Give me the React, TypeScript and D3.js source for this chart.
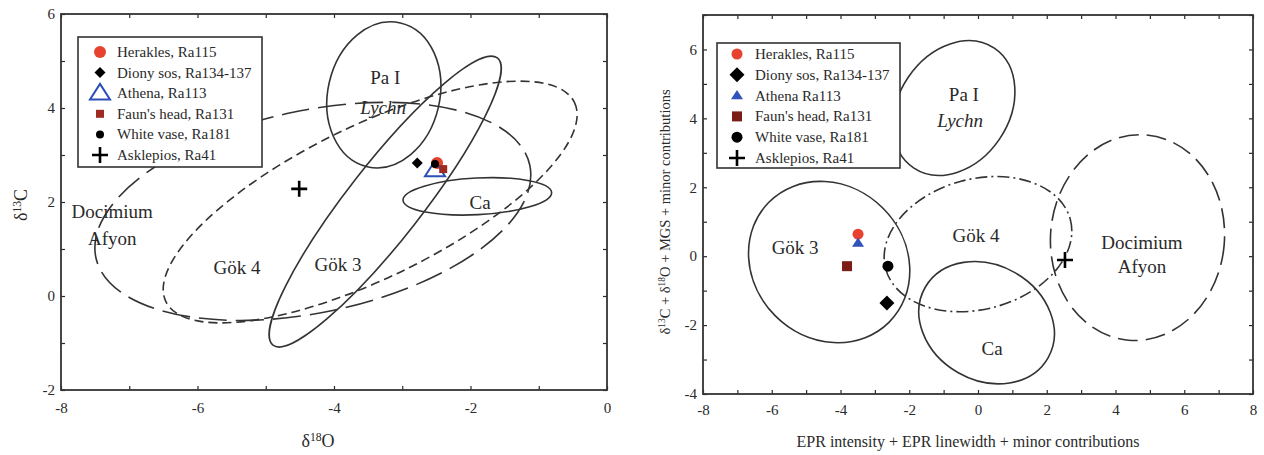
import React, { useEffect, useRef } from "react";
import * as d3 from "d3";

// samples, same order in both panels
const sampleKinds = ["circle", "diamond", "triangle", "square", "dot", "cross"];
const leftNames = ["Herakles, Ra115", "Diony sos, Ra134-137", "Athena, Ra113", "Faun's head, Ra131", "White vase, Ra181", "Asklepios, Ra41"];
const rightNames = ["Herakles, Ra115", "Diony sos, Ra134-137", "Athena Ra113", "Faun's head, Ra131", "White vase, Ra181", "Asklepios, Ra41"];

// left: d18O vs d13C
const leftX = [-2.49, -2.78, -2.52, -2.4, -2.52, -4.51];
const leftY = [2.83, 2.83, 2.68, 2.7, 2.81, 2.28];
// right: EPR + isotope combined coordinates
const rightX = [-3.49, -2.65, -3.49, -3.81, -2.62, 2.53];
const rightY = [0.64, -1.36, 0.38, -0.29, -0.29, -0.11];

// quarry fields: centre, semi-axes (axis units), tilt (deg)
const fields = ["Pa I", "Gök 3", "Gök 4", "Ca", "Docimium"];
const leftCx = [-3.27, -3.25, -3.47, -1.9, -4.31];
const leftCy = [4.28, 2.01, 2.0, 2.12, 1.8];
const leftRx = [0.82, 2.67, 3.33, 1.09, 3.25];
const leftRy = [1.57, 0.79, 1.62, 0.39, 2.15];
const leftTilt = [13, -52, -26, -3, -12];

const rightCx = [-0.7, -4.33, 0.0, 0.25, 4.64];
const rightCy = [4.3, -0.17, 0.35, -1.93, 0.54];
const rightRx = [2.1, 2.47, 2.78, 2.06, 2.53];
const rightRy = [1.6, 2.21, 1.89, 1.67, 2.99];
const rightTilt = [-56, 45, -15, 30, 5];

// field names written in the plots
const leftLabels = ["Pa I", "Lychn", "Docimium", "Afyon", "Gök 4", "Gök 3", "Ca"];
const leftLabelX = [-3.25, -3.28, -7.25, -7.25, -5.42, -3.94, -1.86];
const leftLabelY = [4.64, 4.02, 1.79, 1.23, 0.6, 0.66, 1.98];
const rightLabels = ["Pa I", "Lychn", "Gök 3", "Gök 4", "Docimium", "Afyon", "Ca"];
const rightLabelX = [-0.41, -0.52, -5.32, -0.06, 4.77, 4.77, 0.41];
const rightLabelY = [4.68, 3.95, 0.24, 0.61, 0.41, -0.31, -2.67];

const FONT = "'Liberation Serif', 'Times New Roman', serif";
const INK = "#2a2a2a";

const drawMarker = (g: any, kind: string, cx: number, cy: number, m: any) => {
  if (kind === "circle") {
    g.append("circle").attr("cx", cx).attr("cy", cy).attr("r", m.circle).attr("fill", "#e8412f");
  } else if (kind === "diamond") {
    const s = m.diamond;
    g.append("path").attr("d", `M${cx},${cy - s}L${cx + s},${cy}L${cx},${cy + s}L${cx - s},${cy}Z`).attr("fill", "#000");
  } else if (kind === "triangle") {
    const s = m.triangle;
    const h = s * 1.55;
    const path = `M${cx},${cy - h * 0.6}L${cx + s},${cy + h * 0.4}L${cx - s},${cy + h * 0.4}Z`;
    if (m.openTri) {
      g.append("path").attr("d", path).attr("fill", "none").attr("stroke", "#2b4fb5").attr("stroke-width", 2);
    } else {
      g.append("path").attr("d", path).attr("fill", "#3152b8");
    }
  } else if (kind === "square") {
    const s = m.square;
    g.append("rect").attr("x", cx - s / 2).attr("y", cy - s / 2).attr("width", s).attr("height", s).attr("fill", m.faun);
  } else if (kind === "dot") {
    g.append("circle").attr("cx", cx).attr("cy", cy).attr("r", m.dot).attr("fill", "#000");
  } else {
    const s = m.cross;
    g.append("path")
      .attr("d", `M${cx - s},${cy}H${cx + s}M${cx},${cy - s}V${cy + s}`)
      .attr("stroke", "#000")
      .attr("stroke-width", 2.6);
  }
};

const drawPanel = (svg: any, p: any) => {
  const x = d3.scaleLinear().domain(p.xDomain).range([p.x0, p.x1]);
  const y = d3.scaleLinear().domain(p.yDomain).range([p.y1, p.y0]);
  const kx = x(1) - x(0);
  const ky = y(0) - y(1);
  const g = svg.append("g");
  const fmt = (d: any) => (d % 2 === 0 ? String(d) : "");

  const styleAxis = (a: any) => {
    a.select(".domain").remove();
    a.selectAll(".tick line").attr("stroke", INK).attr("stroke-width", 1.2);
    a.selectAll(".tick text").attr("font-family", FONT).attr("font-size", 15).attr("fill", INK);
  };

  g.append("g")
    .attr("transform", `translate(0,${p.y1})`)
    .call(d3.axisBottom(x).tickValues(p.xTicks).tickFormat(fmt).tickSize(-4).tickSizeOuter(0).tickPadding(p.xPad))
    .call(styleAxis);
  g.append("g")
    .attr("transform", `translate(${p.x0},0)`)
    .call(d3.axisLeft(y).tickValues(p.yTicks).tickFormat(fmt).tickSize(-4).tickSizeOuter(0).tickPadding(6))
    .call(styleAxis);
  g.append("g")
    .attr("transform", `translate(0,${p.y0})`)
    .call(d3.axisTop(x).tickValues(p.xTicks).tickFormat(() => "").tickSize(-4).tickSizeOuter(0))
    .call(styleAxis);
  g.append("g")
    .attr("transform", `translate(${p.x1},0)`)
    .call(d3.axisRight(y).tickValues(p.yTicks).tickFormat(() => "").tickSize(-4).tickSizeOuter(0))
    .call(styleAxis);

  // quarry field ellipses
  fields.forEach((_, i) => {
    const cx = x(p.cx[i]);
    const cy = y(p.cy[i]);
    g.append("ellipse")
      .attr("cx", cx)
      .attr("cy", cy)
      .attr("rx", p.rx[i] * kx)
      .attr("ry", p.ry[i] * ky)
      .attr("transform", `rotate(${p.tilt[i]},${cx},${cy})`)
      .attr("fill", "none")
      .attr("stroke", "#333")
      .attr("stroke-width", 1.6)
      .attr("stroke-dasharray", p.dash[i]);
  });

  // field names
  p.labels.forEach((t: string, i: number) => {
    g.append("text")
      .attr("x", x(p.labelX[i]))
      .attr("y", y(p.labelY[i]) + 6.5)
      .attr("text-anchor", "middle")
      .attr("font-family", FONT)
      .attr("font-size", 19)
      .attr("font-style", t === "Lychn" ? "italic" : "normal")
      .attr("fill", INK)
      .text(t);
  });

  // samples
  sampleKinds.forEach((k, i) => drawMarker(g, k, x(p.xs[i]), y(p.ys[i]), p.marks));

  // legend
  const [lx, ly, lw, lh] = p.legendBox;
  g.append("rect")
    .attr("x", lx)
    .attr("y", ly)
    .attr("width", lw)
    .attr("height", lh)
    .attr("fill", "#fff")
    .attr("stroke", "#333")
    .attr("stroke-width", 1.6);
  p.names.forEach((name: string, i: number) => {
    const ry = p.legendRow0 + i * p.legendStep;
    drawMarker(g, sampleKinds[i], p.legendSymX, ry, p.marks);
    g.append("text")
      .attr("x", p.legendTextX)
      .attr("y", ry + 5)
      .attr("font-family", FONT)
      .attr("font-size", 15)
      .attr("fill", INK)
      .text(name);
  });

  // axis titles
  const xt = g.append("text")
    .attr("x", p.xTitle[0])
    .attr("y", p.xTitle[1])
    .attr("text-anchor", "middle")
    .attr("font-family", FONT)
    .attr("font-size", p.xTitleSize)
    .attr("fill", INK);
  p.xTitleParts.forEach((part: any) => {
    xt.append("tspan")
      .attr("baseline-shift", part[1] ? "super" : null)
      .attr("font-size", part[1] ? p.xTitleSize * 0.65 : null)
      .text(part[0]);
  });
  const yt = g.append("text")
    .attr("transform", `translate(${p.yTitle[0]},${p.yTitle[1]}) rotate(-90)`)
    .attr("text-anchor", "middle")
    .attr("font-family", FONT)
    .attr("font-size", p.yTitleSize)
    .attr("fill", INK);
  p.yTitleParts.forEach((part: any) => {
    yt.append("tspan")
      .attr("baseline-shift", part[1] ? "super" : null)
      .attr("font-size", part[1] ? p.yTitleSize * 0.65 : null)
      .text(part[0]);
  });

  // frame
  g.append("rect")
    .attr("x", p.x0)
    .attr("y", p.y0)
    .attr("width", p.x1 - p.x0)
    .attr("height", p.y1 - p.y0)
    .attr("fill", "none")
    .attr("stroke", "#333")
    .attr("stroke-width", 1.8);
};

const Figure = () => {
  const ref = useRef(null);

  useEffect(() => {
    if (!ref.current) return;
    const svg = d3.select(ref.current);
    svg.selectAll("*").remove();

    drawPanel(svg, {
      x0: 61, x1: 607, y0: 14, y1: 390,
      xDomain: [-8, 0], yDomain: [-2, 6],
      xTicks: d3.range(-8, 1), yTicks: d3.range(-2, 7), xPad: 12,
      cx: leftCx, cy: leftCy, rx: leftRx, ry: leftRy, tilt: leftTilt,
      dash: [null, null, "9 5", null, "28 9"],
      labels: leftLabels, labelX: leftLabelX, labelY: leftLabelY,
      xs: leftX, ys: leftY, names: leftNames,
      marks: { circle: 6, diamond: 5.5, triangle: 10, openTri: true, square: 8, dot: 4, cross: 8, faun: "#9e2a24" },
      legendBox: [78, 37, 184, 130], legendRow0: 52, legendStep: 20.6, legendSymX: 100, legendTextX: 117,
      xTitleSize: 18, yTitleSize: 18,
      xTitle: [318, 447], xTitleParts: [["δ", false], ["18", true], ["O", false]],
      yTitle: [27, 205], yTitleParts: [["δ", false], ["13", true], ["C", false]],
    });

    drawPanel(svg, {
      x0: 703, x1: 1253, y0: 15, y1: 394,
      xDomain: [-8, 8], yDomain: [-4, 7],
      xTicks: d3.range(-8, 9), yTicks: d3.range(-4, 8), xPad: 10,
      cx: rightCx, cy: rightCy, rx: rightRx, ry: rightRy, tilt: rightTilt,
      dash: [null, null, "12 4 2 4", null, "20 8"],
      labels: rightLabels, labelX: rightLabelX, labelY: rightLabelY,
      xs: rightX, ys: rightY, names: rightNames,
      marks: { circle: 5.5, diamond: 7.5, triangle: 6, openTri: false, square: 10, dot: 5.5, cross: 8, faun: "#7a1c18" },
      legendBox: [717, 43, 183, 125], legendRow0: 54, legendStep: 20.8, legendSymX: 737, legendTextX: 755,
      xTitleSize: 16, yTitleSize: 14.5,
      xTitle: [968, 447], xTitleParts: [["EPR intensity + EPR linewidth + minor contributions", false]],
      yTitle: [670, 212],
      yTitleParts: [["δ", false], ["13", true], ["C + δ", false], ["18", true], ["O + MGS + minor contributions", false]],
    });
  }, []);

  return <svg ref={ref} width={1264} height={455} style={{ display: "block" }} />;
};

function App() {
  return (
    <div style={{ position: "absolute", left: 0, top: 0, background: "#fff" }}>
      <Figure />
    </div>
  );
}

export default App;
